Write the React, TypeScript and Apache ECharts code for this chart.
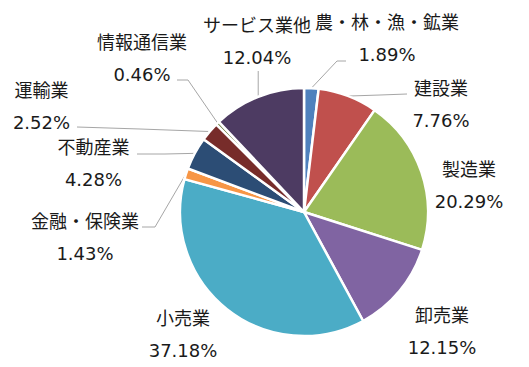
import React, { useEffect, useRef } from 'react';
import * as echarts from 'echarts';

const categories = ['農・林・漁・鉱業', '建設業', '製造業', '卸売業', '小売業', '金融・保険業', '不動産業', '運輸業', '情報通信業', 'サービス業他'];
const shares = [1.89, 7.76, 20.29, 12.15, 37.18, 1.43, 4.28, 2.52, 0.46, 12.04];
const colors = ['#4F81BD', '#C0504D', '#9BBB59', '#8064A2', '#4BACC6', '#F79646', '#2C4D75', '#772C2A', '#5F7530', '#4D3B62'];
const showLeader = [true, true, false, false, false, true, true, true, true, true];

// label block centres (layout only)
const labelPos: number[][] = [
  [387, 38.5], [441, 104], [469, 185.5], [442, 331], [183, 334.5],
  [85, 237], [93.5, 163], [41.5, 106], [142, 58], [257, 41.5],
];
// leader line bend points after the slice edge (layout only)
const leaderBends: (number[][] | null)[] = [
  [[337, 61], [346, 61]],
  [[380, 95], [407, 94]],
  null, null, null,
  [[155, 227], [142, 227]],
  [[165, 154], [137, 154]],
  [[140, 129], [77, 127]],
  [[188, 80], [177, 80]],
  null,
];

export default function App() {
  const ref = useRef<HTMLDivElement>(null);
  useEffect(() => {
    document.body.style.margin = '0';
    const chart = echarts.init(ref.current!, null, { renderer: 'svg' });
    chart.setOption({
      animation: false,
      backgroundColor: '#ffffff',
      series: [
        {
          type: 'pie',
          center: [304, 212],
          radius: 124,
          startAngle: 90,
          clockwise: true,
          avoidLabelOverlap: false,
          itemStyle: { borderColor: '#ffffff', borderWidth: 2.5 },
          label: {
            show: true,
            position: 'outside',
            fontFamily: '"DejaVu Sans", "Noto Sans CJK JP", sans-serif',
            fontSize: 18,
            lineHeight: 32,
            color: '#1a1a1a',
            formatter: (p: any) => `${p.name}\n${shares[p.dataIndex].toFixed(2)}%`,
          },
          labelLine: {
            show: true,
            length: 10,
            length2: 10,
            smooth: false,
            lineStyle: { color: '#A6A6A6', width: 1 },
          },
          labelLayout: (params: any) => {
            const i = params.dataIndex;
            const [x, y] = labelPos[i];
            const res: any = { x, y, align: 'center', verticalAlign: 'middle' };
            if (showLeader[i] && params.labelLinePoints) {
              const p0 = params.labelLinePoints[0];
              const bends = leaderBends[i] || [[p0[0], 71], [p0[0], 71]];
              res.labelLinePoints = [[p0[0], p0[1]], ...bends];
            }
            return res;
          },
          emphasis: { disabled: true },
          data: categories.map((name, i) => ({
            name,
            value: shares[i],
            itemStyle: { color: colors[i] },
            labelLine: { show: showLeader[i] },
          })),
        },
      ],
    });
    return () => chart.dispose();
  }, []);
  return <div ref={ref} style={{ width: 529, height: 367 }} />;
}
